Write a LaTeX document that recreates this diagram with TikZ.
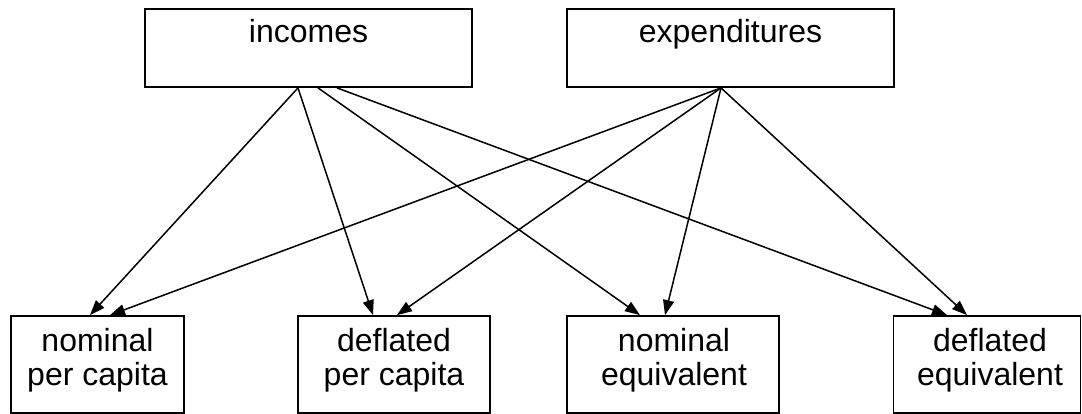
\documentclass[tikz,border=0pt]{standalone}
\usepackage{fontspec}
\setmainfont{Liberation Sans}
\usetikzlibrary{arrows.meta}
\tikzset{
  boxshape/.style={draw=black, line width=1.8pt, rectangle, inner sep=0pt},
  lbl/.style={anchor=base, inner sep=0pt, font=\fontsize{32}{36}\selectfont},
  link/.style={draw=black, line width=1.5pt, -{Triangle[length=15pt,width=11pt]}}
}
\begin{document}
\begin{tikzpicture}[x=1pt,y=-1pt]
\useasboundingbox (0,0) rectangle (1082,414);
% top boxes
\node[boxshape, minimum width=327pt, minimum height=78pt] (inc) at (308.5,48) {};
\node[lbl] (inct) at (308.5,43) {incomes};
\node[boxshape, minimum width=327pt, minimum height=78pt] (exp) at (730.5,48) {};
\node[lbl] (expt) at (730.5,43) {expenditures};
% bottom boxes
\node[boxshape, minimum width=173pt, minimum height=97pt] (b1) at (97.5,364.5) {};
\node[lbl] (b1a) at (97.5,351) {nominal};
\node[lbl] (b1b) at (97.5,385) {per capita};
\node[boxshape, minimum width=192pt, minimum height=97pt] (b2) at (394,364.5) {};
\node[lbl] (b2a) at (394,351) {deflated};
\node[lbl] (b2b) at (394,385) {per capita};
\node[boxshape, minimum width=212pt, minimum height=97pt] (b3) at (673,364.5) {};
\node[lbl] (b3a) at (674,351) {nominal};
\node[lbl] (b3b) at (674,385) {equivalent};
\node[boxshape, minimum width=187pt, minimum height=97pt] (b4) at (987,364.5) {};
\node[lbl] (b4a) at (990,351) {deflated};
\node[lbl] (b4b) at (990,385) {equivalent};
% connectors
\draw[link] ([xshift=-10.5pt]inc.south) -- ([xshift=-7.5pt]b1.north);
\draw[link] ([xshift=-10.5pt]inc.south) -- ([xshift=-21pt]b2.north);
\draw[link] ([xshift=9.5pt]inc.south) -- ([xshift=-33pt]b3.north);
\draw[link] ([xshift=28.5pt]inc.south) -- ([xshift=-40pt]b4.north);
\draw[link] ([xshift=-9.5pt]exp.south) -- ([xshift=12.5pt]b1.north);
\draw[link] ([xshift=-9.5pt]exp.south) -- ([xshift=3pt]b2.north);
\draw[link] ([xshift=-9.5pt]exp.south) -- ([xshift=-8pt]b3.north);
\draw[link] ([xshift=-9.5pt]exp.south) -- ([xshift=-20pt]b4.north);
\end{tikzpicture}
\end{document}
